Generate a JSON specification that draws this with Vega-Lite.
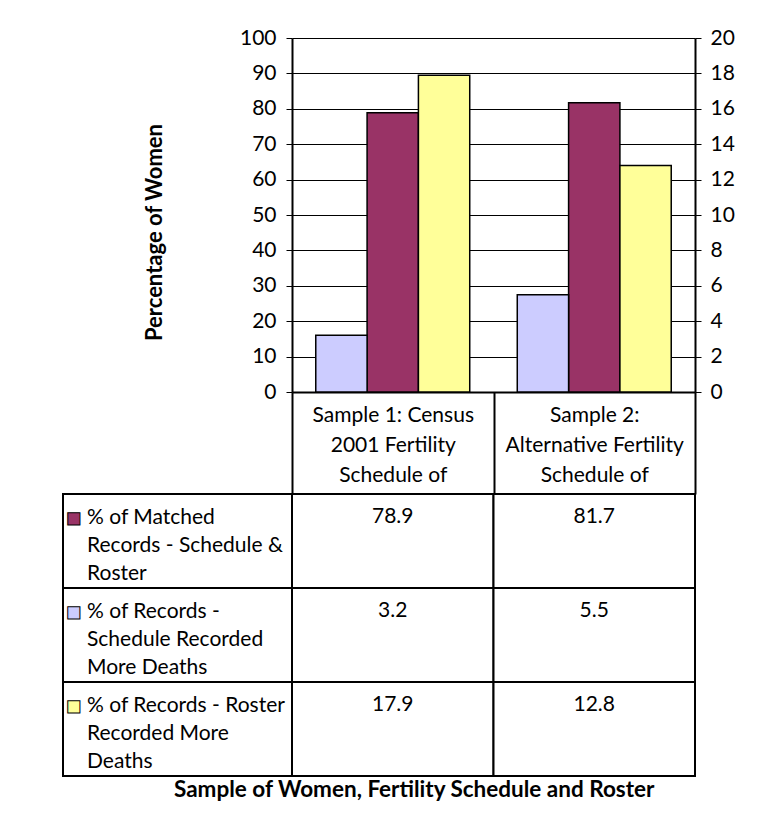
{
  "$schema": "https://vega.github.io/schema/vega-lite/v6.json",
  "padding": {"left": 62, "top": 27, "right": 0, "bottom": 0},
  "background": "white",
  "config": {
    "view": {"stroke": null},
    "font": "Lato",
    "text": {"font": "Lato", "fontSize": 21, "color": "black"},
    "axis": {"labelFont": "Lato", "titleFont": "Lato", "labelColor": "black", "titleColor": "black"}
  },
  "datasets": {
    "vals": [
      {"sample": "Sample 1: Census\n2001 Fertility\nSchedule of", "series": "% of Matched\nRecords - Schedule &\nRoster", "value": 78.9},
      {"sample": "Sample 1: Census\n2001 Fertility\nSchedule of", "series": "% of Records -\nSchedule Recorded\nMore Deaths", "value": 3.2},
      {"sample": "Sample 1: Census\n2001 Fertility\nSchedule of", "series": "% of Records - Roster\nRecorded More\nDeaths", "value": 17.9},
      {"sample": "Sample 2:\nAlternative Fertility\nSchedule of", "series": "% of Matched\nRecords - Schedule &\nRoster", "value": 81.7},
      {"sample": "Sample 2:\nAlternative Fertility\nSchedule of", "series": "% of Records -\nSchedule Recorded\nMore Deaths", "value": 5.5},
      {"sample": "Sample 2:\nAlternative Fertility\nSchedule of", "series": "% of Records - Roster\nRecorded More\nDeaths", "value": 12.8}
    ]
  },
  "title": {"text": "Sample of Women, Fertility Schedule and Roster", "orient": "bottom", "anchor": "middle", "font": "Lato", "fontSize": 22.5, "fontWeight": "bold", "color": "black", "dx": 16, "offset": 2},
  "columns": 2,
  "spacing": {"row": 102, "column": 0},
  "bounds": "flush",
  "align": "each",
  "concat": [
    {
      "width": 229,
      "height": 354,
      "data": {"values": [{}]},
      "mark": {"type": "text", "text": ""}
    },
    {
      "width": 403,
      "height": 354,
      "data": {"name": "vals"},
      "encoding": {
        "x": {
          "field": "sample", "type": "nominal", "sort": null,
          "scale": {"paddingInner": 0, "paddingOuter": 0},
          "axis": {
            "orient": "bottom", "title": null,
            "domainColor": "black", "domainWidth": 2,
            "tickBand": "extent", "tickSize": 102, "tickWidth": 2, "tickColor": "black",
            "labelExpr": "split(datum.label, '\\n')",
            "labelAngle": 0, "labelBaseline": "middle", "labelLineHeight": 30,
            "labelPadding": -79, "labelFontSize": 21, "labelLimit": 400
          }
        },
        "xOffset": {
          "field": "series", "type": "nominal",
          "scale": {"domain": ["% of Records -\nSchedule Recorded\nMore Deaths", "% of Matched\nRecords - Schedule &\nRoster", "% of Records - Roster\nRecorded More\nDeaths"], "paddingInner": 0, "paddingOuter": 0.463}
        },
        "color": {
          "field": "series", "type": "nominal", "legend": null,
          "scale": {"domain": ["% of Records -\nSchedule Recorded\nMore Deaths", "% of Matched\nRecords - Schedule &\nRoster", "% of Records - Roster\nRecorded More\nDeaths"], "range": ["#CCCCFF", "#993366", "#FFFF99"]}
        }
      },
      "layer": [
        {
          "transform": [{"filter": {"field": "series", "equal": "% of Matched\nRecords - Schedule &\nRoster"}}],
          "mark": {"type": "bar", "stroke": "black", "strokeWidth": 1.5},
          "encoding": {
            "y": {
              "field": "value", "type": "quantitative",
              "scale": {"domain": [0, 100]},
              "axis": {
                "orient": "left", "values": [0, 10, 20, 30, 40, 50, 60, 70, 80, 90, 100],
                "grid": true, "gridColor": "black", "gridWidth": 1, "gridOpacity": 1,
                "domainColor": "black", "domainWidth": 2,
                "tickColor": "black", "tickSize": 6, "tickWidth": 1,
                "labelFontSize": 21, "labelPadding": 10,
                "title": "Percentage of Women", "titleFontSize": 22, "titleFontWeight": "bold",
                "titlePadding": 73, "titleY": 194
              }
            }
          }
        },
        {
          "transform": [{"filter": {"not": {"field": "series", "equal": "% of Matched\nRecords - Schedule &\nRoster"}}}],
          "mark": {"type": "bar", "stroke": "black", "strokeWidth": 1.5},
          "encoding": {
            "y": {
              "field": "value", "type": "quantitative",
              "scale": {"domain": [0, 20]},
              "axis": {
                "orient": "right", "values": [0, 2, 4, 6, 8, 10, 12, 14, 16, 18, 20],
                "grid": false,
                "domainColor": "black", "domainWidth": 2,
                "tickColor": "black", "tickSize": 6, "tickWidth": 1,
                "labelFontSize": 21, "labelPadding": 9, "title": null
              }
            }
          }
        }
      ],
      "resolve": {"scale": {"y": "independent"}}
    },
    {
      "width": 229,
      "height": 282,
      "data": {"name": "vals"},
      "transform": [{"filter": {"field": "sample", "equal": "Sample 1: Census\n2001 Fertility\nSchedule of"}}],
      "encoding": {
        "y": {
          "field": "series", "type": "nominal", "axis": null,
          "sort": ["% of Matched\nRecords - Schedule &\nRoster", "% of Records -\nSchedule Recorded\nMore Deaths", "% of Records - Roster\nRecorded More\nDeaths"],
          "scale": {"paddingInner": 0, "paddingOuter": 0}
        }
      },
      "layer": [
        {"mark": {"type": "rect", "fill": "white", "stroke": "black", "strokeWidth": 2}},
        {
          "mark": {"type": "text", "text": "■", "font": "DejaVu Sans", "fontSize": 16, "dx": -104, "dy": -23.5, "baseline": "middle", "align": "center", "stroke": "black", "strokeWidth": 1},
          "encoding": {
            "color": {
              "field": "series", "type": "nominal", "legend": null,
              "scale": {"domain": ["% of Records -\nSchedule Recorded\nMore Deaths", "% of Matched\nRecords - Schedule &\nRoster", "% of Records - Roster\nRecorded More\nDeaths"], "range": ["#CCCCFF", "#993366", "#FFFF99"]}
            }
          }
        },
        {
          "mark": {"type": "text", "align": "left", "baseline": "middle", "dx": -90.5, "dy": -23, "lineBreak": "\n", "lineHeight": 28, "fontSize": 21, "color": "black"},
          "encoding": {"text": {"field": "series", "type": "nominal"}}
        }
      ]
    },
    {
      "width": 403,
      "height": 282,
      "data": {"name": "vals"},
      "encoding": {
        "x": {"field": "sample", "type": "nominal", "sort": null, "axis": null, "scale": {"paddingInner": 0, "paddingOuter": 0}},
        "y": {
          "field": "series", "type": "nominal", "axis": null,
          "sort": ["% of Matched\nRecords - Schedule &\nRoster", "% of Records -\nSchedule Recorded\nMore Deaths", "% of Records - Roster\nRecorded More\nDeaths"],
          "scale": {"paddingInner": 0, "paddingOuter": 0}
        }
      },
      "layer": [
        {"mark": {"type": "rect", "fill": "white", "stroke": "black", "strokeWidth": 2}},
        {
          "mark": {"type": "text", "baseline": "middle", "dy": -24, "fontSize": 21, "color": "black"},
          "encoding": {"text": {"field": "value", "type": "quantitative", "format": ".1f"}}
        }
      ]
    }
  ]
}
